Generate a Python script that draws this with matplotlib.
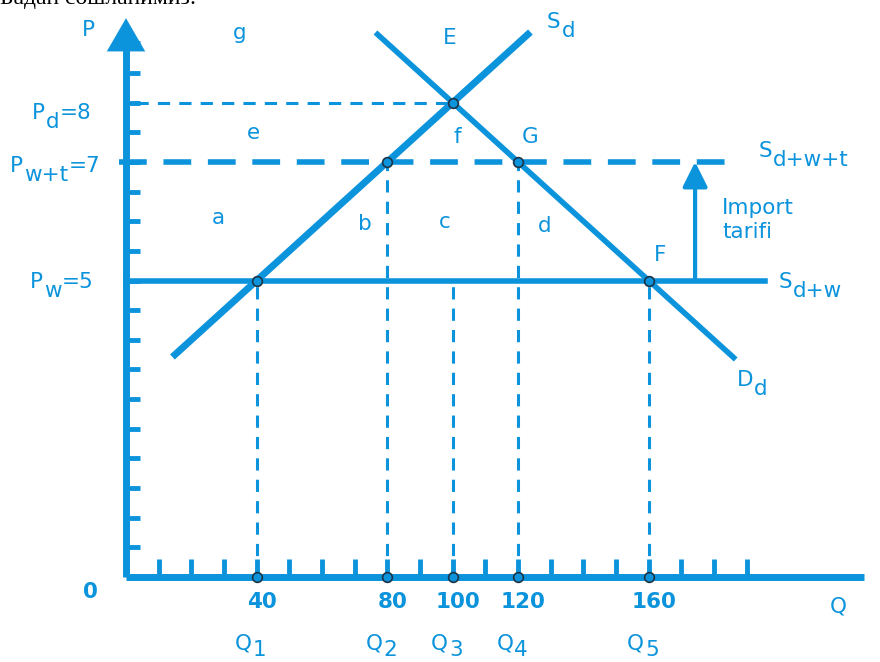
import matplotlib
matplotlib.use('Agg')
import matplotlib.pyplot as plt

BLUE = '#0b93dc'
plt.rcParams['font.family'] = ['DejaVu Sans']

# data
world_price = 5
tariff_price = 7
domestic_price = 8
supply_q = [15, 123]
supply_p = [3.75, 9.15]
demand_q = [77, 186]
demand_p = [9.15, 3.7]
q_ticks = [40, 80, 100, 120, 160]
q_subs = ['1', '2', '3', '4', '5']
drop_q = [40, 80, 100, 120, 160]
drop_p = [5, 7, 5, 7, 5]
marks_q = [40, 80, 100, 120, 160]
marks_p = [5, 7, 8, 7, 5]
y_minor = [i * 0.5 for i in range(1, 19)]
x_minor = list(range(10, 200, 10))

fig = plt.figure(figsize=(8.8, 6.62), dpi=100)
ax = fig.add_axes([0, 0, 1, 1])
ax.set_xlim(-38.57, 230.8)
ax.set_ylim(-1.433, 9.73)
ax.axis('off')

fs = 15.5
kw = dict(color=BLUE, fontsize=fs)


def sub_label(x, y, main, sub, tail='', drop=6.5):
    # letter + lowered subscript of the same size + optional tail on the baseline
    t = ax.text(x, y, main, ha='left', va='baseline', **kw)
    s = ax.annotate(sub, xy=(1, 0), xycoords=t, xytext=(0.5, -drop),
                    textcoords='offset points', ha='left', va='bottom', **kw)
    if tail:
        ax.annotate(tail, xy=(1, 0), xycoords=(s, t), xytext=(0.5, 0),
                    textcoords='offset points', ha='left', va='bottom', **kw)


# axes with arrows
ax.plot([0, 0], [0, 9.0], color=BLUE, lw=5, solid_capstyle='butt')
ax.plot([0, 226], [0, 0], color=BLUE, lw=5, solid_capstyle='butt')
ax.annotate('', xy=(0, 9.47), xytext=(0, 8.9),
            arrowprops=dict(arrowstyle='-|>,head_width=0.55,head_length=0.95',
                            color=BLUE, lw=0.1, mutation_scale=25))
ax.annotate('', xy=(236, 0), xytext=(222, 0),
            arrowprops=dict(arrowstyle='-|>,head_width=0.55,head_length=0.95',
                            color=BLUE, lw=0.1, mutation_scale=25))

# small ticks
for p in y_minor:
    ax.plot([0, 4.3], [p, p], color=BLUE, lw=3.5, solid_capstyle='butt')
for q in x_minor:
    ax.plot([q, q], [0, 0.3], color=BLUE, lw=3.5, solid_capstyle='butt')

# price lines
ax.plot([0, 195.6], [world_price, world_price], color=BLUE, lw=4)
ax.plot([-2, 188], [tariff_price, tariff_price], color=BLUE, lw=4,
        dashes=(5, 3))
ax.plot([3, 100], [domestic_price, domestic_price], color=BLUE, lw=2.2,
        dashes=(4, 3))

# drop lines
for q, p in zip(drop_q, drop_p):
    ax.plot([q, q], [0, p], color=BLUE, lw=2.2, dashes=(4, 3))

# supply and demand
ax.plot(supply_q, supply_p, color=BLUE, lw=5)
ax.plot(demand_q, demand_p, color=BLUE, lw=4)

# intersection markers
ax.plot(marks_q, marks_p, 'o', ms=7, mfc=BLUE, mec='#1d3447', mew=1.2)
ax.plot(q_ticks, [0] * len(q_ticks), 'o', ms=7, mfc=BLUE, mec='#1d3447', mew=1.2)

# import tariff arrow
ax.annotate('', xy=(174.2, tariff_price), xytext=(174.2, world_price),
            arrowprops=dict(arrowstyle='-|>,head_width=0.3,head_length=0.6',
                            color=BLUE, lw=3, mutation_scale=25,
                            shrinkA=0, shrinkB=0))

ax.text(-11.6, 9.22, 'P', ha='center', va='center', **kw)
ax.text(34.9, 9.17, 'g', ha='center', va='center', **kw)
ax.text(99.2, 9.09, 'E', ha='center', va='center', **kw)
sub_label(128.9, 9.26, 'S', 'd')
sub_label(-28.8, 7.72, 'P', 'd', '=8')
sub_label(-35.5, 6.83, 'P', 'w+t', '=7')
sub_label(-29.4, 4.87, 'P', 'w', '=5')
ax.text(38.9, 7.49, 'e', ha='center', va='center', **kw)
ax.text(101.3, 7.42, 'f', ha='center', va='center', **kw)
ax.text(123.7, 7.42, 'G', ha='center', va='center', **kw)
sub_label(193.5, 7.08, 'S', 'd+w+t')
ax.text(28.2, 6.05, 'a', ha='center', va='center', **kw)
ax.text(73.2, 5.95, 'b', ha='center', va='center', **kw)
ax.text(97.6, 5.99, 'c', ha='center', va='center', **kw)
ax.text(128.3, 5.92, 'd', ha='center', va='center', **kw)
ax.text(182.5, 6.02, 'Import\ntarifi', ha='left', va='center',
        linespacing=1.2, **kw)
ax.text(163.5, 5.43, 'F', ha='center', va='center', **kw)
sub_label(199.9, 4.87, 'S', 'd+w')
sub_label(187.0, 3.22, 'D', 'd')
ax.text(-11.0, -0.25, '0', ha='center', va='center', fontweight='bold', **kw)
ax.text(218.0, -0.5, 'Q', ha='center', va='center', **kw)
for q, sub in zip(q_ticks, q_subs):
    ax.text(q + 1.5, -0.42, str(q), ha='center', va='center',
            fontweight='bold', **kw)
    sub_label(q - 6.6, -1.23, 'Q', sub, drop=4.5)

# clipped caption at the very top
fig.text(0.0, 1.003, 'Бадан сошланимиз:', ha='left', va='center',
         fontsize=17, family='Liberation Serif', color='black')

fig.savefig('out.png', dpi=100)
